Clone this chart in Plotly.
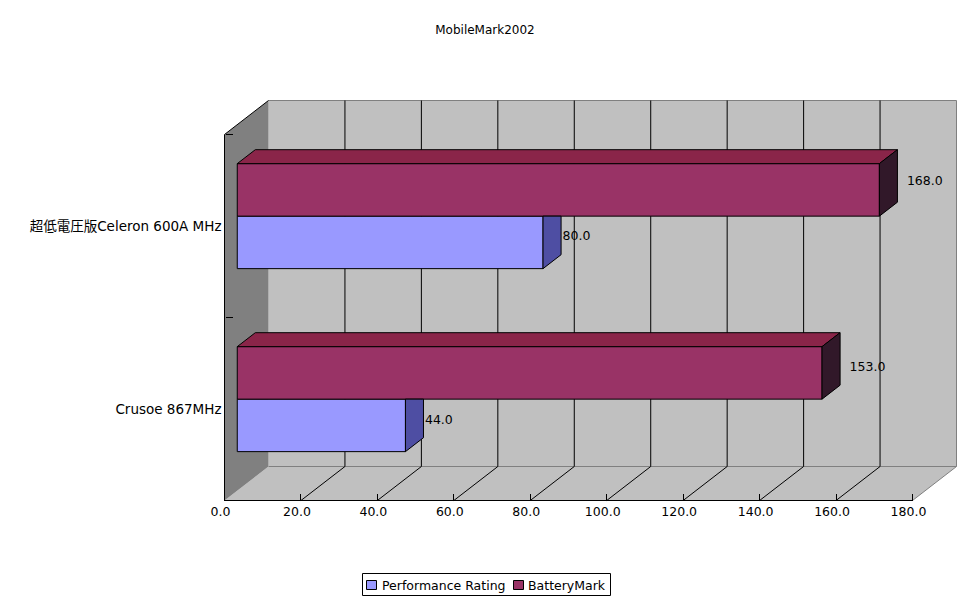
import plotly.graph_objects as go

# Chart content
title = "MobileMark2002"
categories = ["Crusoe 867MHz", "超低電圧版Celeron 600A MHz"]
category_pos = [0.5, 1.5]
perf_name = "Performance Rating"
perf_values = [44.0, 80.0]
batt_name = "BatteryMark"
batt_values = [153.0, 168.0]
value_ticks = [0, 20, 40, 60, 80, 100, 120, 140, 160, 180]

# Page size and the placement of the value/category axes, in pixels
W, H = 972, 604
X0_PX, X180_PX = 224.5, 912.5
Y0_PX, CAT_PX = 500.5, 183.0
PX_PER_VALUE = (X180_PX - X0_PX) / 180.0

# Oblique projection: one unit of depth shifts right and up
DEPTH_X = 44.0 / PX_PER_VALUE
DEPTH_Y = 34.0 / CAT_PX
BAR_FRONT, BAR_BACK = 0.29, 0.70
BAR_W = 52.5 / CAT_PX
CAT_MAX = 2.0

LEFT_WALL, BACK_WALL = "#808080", "#C0C0C0"
EDGE = "#808080"
FONT = "DejaVu Sans, Noto Sans CJK JP"


def project(value, cat, depth):
    return value + depth * DEPTH_X, cat + depth * DEPTH_Y


def poly_path(points):
    return "M" + " L".join(f"{x},{y}" for x, y in points) + " Z"


def seg(p, q, color, width=1):
    return dict(type="line", xref="x", yref="y", layer="below",
                x0=p[0], y0=p[1], x1=q[0], y1=q[1],
                line=dict(color=color, width=width))


shapes = [
    # back wall, floor, left wall
    dict(type="path", xref="x", yref="y", layer="below", line=dict(width=0), fillcolor=BACK_WALL,
         path=poly_path([project(0, 0, 1), project(0, CAT_MAX, 1), project(180, CAT_MAX, 1), project(180, 0, 1)])),
    dict(type="path", xref="x", yref="y", layer="below", line=dict(width=0), fillcolor=BACK_WALL,
         path=poly_path([project(0, 0, 0), project(0, 0, 1), project(180, 0, 1), project(180, 0, 0)])),
    dict(type="path", xref="x", yref="y", layer="below", line=dict(width=0), fillcolor=LEFT_WALL,
         path=poly_path([project(0, 0, 0), project(0, CAT_MAX, 0), project(0, CAT_MAX, 1), project(0, 0, 1)])),
    # box edges
    seg(project(0, CAT_MAX, 1), project(180, CAT_MAX, 1), EDGE),
    seg(project(180, CAT_MAX, 1), project(180, 0, 1), EDGE),
    seg(project(0, 0, 1), project(180, 0, 1), EDGE),
    seg(project(180, 0, 1), project(180, 0, 0), EDGE),
    seg(project(0, CAT_MAX, 0), project(0, CAT_MAX, 1), "black"),
    seg(project(0, 0, 0), project(0, CAT_MAX, 0), "black"),
    seg(project(0, 0, 0), project(180, 0, 0), "black"),
]
for v in value_ticks[1:-1]:
    shapes.append(seg(project(v, 0, 1), project(v, CAT_MAX, 1), "black"))
    shapes.append(seg(project(v, 0, 0), project(v, 0, 1), "black"))

# Legend box, drawn in page fractions
def px_x(px):
    return px / W


def px_y(px):
    return 1 - px / H


shapes.append(dict(type="rect", xref="paper", yref="paper", x0=px_x(362.5), x1=px_x(610.5),
                   y0=px_y(595.5), y1=px_y(573.5), line=dict(color="black", width=1), fillcolor="white"))
for left, colour in ((366.5, "#9999FF"), (513.5, "#993366")):
    shapes.append(dict(type="rect", xref="paper", yref="paper", x0=px_x(left), x1=px_x(left + 10),
                       y0=px_y(589.5), y1=px_y(580.5), line=dict(color="black", width=1), fillcolor=colour))

fig = go.Figure()

front_offset = BAR_FRONT * DEPTH_X
front_lift = BAR_FRONT * DEPTH_Y


def add_front(name, values, low, colour):
    fig.add_trace(go.Bar(
        name=name, orientation="h", x=values,
        y=[c + low + front_lift + BAR_W / 2 for c in category_pos],
        base=[front_offset] * len(values), width=BAR_W,
        marker=dict(color=colour, line=dict(color="black", width=1)),
        hoverinfo="x+name",
    ))


def add_face(points, fg, bg):
    xs = [p[0] for p in points] + [points[0][0]]
    ys = [p[1] for p in points] + [points[0][1]]
    fig.add_trace(go.Scatter(
        x=xs, y=ys, mode="lines", fill="toself", showlegend=False, hoverinfo="skip",
        line=dict(color="black", width=1), fillcolor=bg,
        fillpattern=dict(shape=".", size=2, solidity=0.5, fgcolor=fg, bgcolor=bg),
    ))


add_front(perf_name, perf_values, -BAR_W, "#9999FF")
add_front(batt_name, batt_values, 0.0, "#993366")

for c, p, b in zip(category_pos, perf_values, batt_values):
    # right-hand end of the lower bar stops where the upper bar's face begins
    f = project(p, c - BAR_W, BAR_FRONT)
    k = project(p, c - BAR_W, BAR_BACK)
    top_y = project(0, c, BAR_FRONT)[1]
    add_face([f, k, (k[0], top_y), (f[0], top_y)], "#333388", "#5555AA")
    # top and end of the upper bar
    add_face([project(0, c + BAR_W, BAR_FRONT), project(0, c + BAR_W, BAR_BACK),
              project(b, c + BAR_W, BAR_BACK), project(b, c + BAR_W, BAR_FRONT)], "#7A1030", "#8E2A50")
    add_face([project(b, c, BAR_FRONT), project(b, c, BAR_BACK),
              project(b, c + BAR_W, BAR_BACK), project(b, c + BAR_W, BAR_FRONT)], "#101010", "#3A1A30")

# Value labels sit to the right of each bar; pixel nudges per label
perf_nudge_y = [4.5, 6.0]
batt_nudge_y = [5.5, 8.0]
label_x, label_y, label_text = [], [], []
for c, p, b, pn, bn in zip(category_pos, perf_values, batt_values, perf_nudge_y, batt_nudge_y):
    label_x += [project(p, 0, BAR_FRONT)[0] + 19.5 / PX_PER_VALUE,
                project(b, 0, BAR_FRONT)[0] + 27.5 / PX_PER_VALUE]
    label_y += [c + front_lift - BAR_W / 2 + pn / CAT_PX,
                c + front_lift + BAR_W / 2 + bn / CAT_PX]
    label_text += [f"{p:.1f}", f"{b:.1f}"]
fig.add_trace(go.Scatter(x=label_x, y=label_y, text=label_text, mode="text",
                         textposition="middle right", showlegend=False, hoverinfo="skip",
                         textfont=dict(family=FONT, size=12.5, color="black")))

annotations = [
    dict(text=perf_name, xref="paper", yref="paper", x=px_x(380), y=px_y(585), xanchor="left",
         yanchor="middle", showarrow=False, font=dict(family=FONT, size=12.5, color="black")),
    dict(text=batt_name, xref="paper", yref="paper", x=px_x(526), y=px_y(585), xanchor="left",
         yanchor="middle", showarrow=False, font=dict(family=FONT, size=12.5, color="black")),
]

fig.update_layout(
    width=W, height=H, margin=dict(l=0, r=0, t=0, b=0), autosize=False,
    paper_bgcolor="white", plot_bgcolor="white", showlegend=False, barmode="overlay",
    font=dict(family=FONT, size=12, color="black"),
    title=dict(text=title, x=485 / W, y=1 - 30 / H, xanchor="center", yanchor="middle",
               font=dict(family=FONT, size=12, color="black")),
    shapes=shapes, annotations=annotations,
    xaxis=dict(range=[-X0_PX / PX_PER_VALUE, (W - X0_PX) / PX_PER_VALUE], domain=[0, 1],
               tickmode="array", tickvals=value_ticks, ticktext=[f"{v:.1f}" for v in value_ticks],
               ticks="inside", ticklen=7, tickcolor="black", tickwidth=1,
               showgrid=False, zeroline=False, showline=False,
               anchor="free", position=1 - Y0_PX / H, side="bottom",
               ticklabelstandoff=2, ticklabelshift=-4,
               tickfont=dict(family=FONT, size=12.5, color="black")),
    yaxis=dict(range=[(Y0_PX - H) / CAT_PX, Y0_PX / CAT_PX], domain=[0, 1],
               tickmode="array", tickvals=category_pos, ticktext=categories,
               ticks="", showgrid=False, zeroline=False, showline=False,
               anchor="free", position=X0_PX / W, side="left",
               ticklabelstandoff=3,
               minor=dict(tickmode="array", tickvals=[0, 1, 2], ticks="inside", ticklen=7,
                          tickcolor="black", tickwidth=1),
               tickfont=dict(family=FONT, size=13.5, color="black")),
)

fig.write_html("out.html")
